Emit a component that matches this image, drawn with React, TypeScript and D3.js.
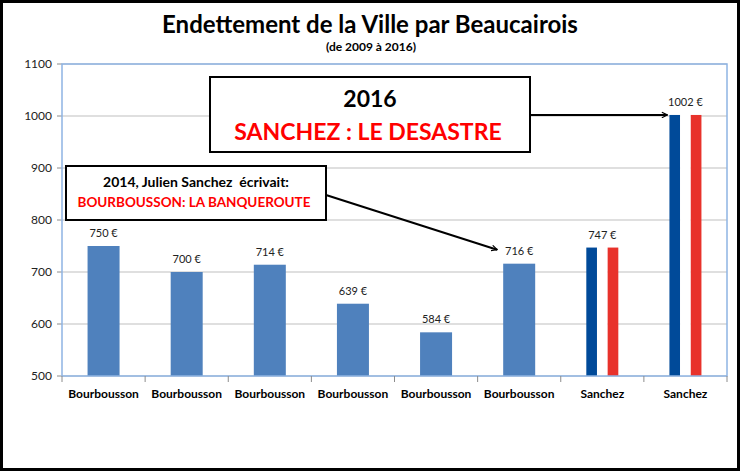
import React from "react";
import * as d3 from "d3";

const categories = ["Bourbousson", "Bourbousson", "Bourbousson", "Bourbousson", "Bourbousson", "Bourbousson", "Sanchez", "Sanchez"];
const values = [750, 700, 714, 639, 584, 716, 747, 1002];
const yTicks = [500, 600, 700, 800, 900, 1000, 1100];
const title = "Endettement de la Ville par Beaucairois";
const subtitle = "(de 2009 à 2016)";
const note2016 = ["2016", "SANCHEZ : LE DESASTRE"];
const note2014 = ["2014, Julien Sanchez  écrivait:", "BOURBOUSSON: LA BANQUEROUTE"];

const W = 740, H = 471;
const FONT = "Lato, 'Open Sans', sans-serif";

export default function App() {
  const x = d3.scaleBand<number>().domain(values.map((_, i) => i)).range([62, 727]).paddingInner(0.615).paddingOuter(0.3075);
  const y = d3.scaleLinear().domain([500, 1100]).range([376, 64]);
  const bw = x.bandwidth();
  const edges = d3.range(categories.length + 1).map((i) => 62 + i * x.step());

  const a1Tip: [number, number] = [(x(7) as number) - 2, y(values[7])];
  const a2Tip: [number, number] = [(x(5) as number) - 6, y(values[5]) - 14];

  return (
    <svg width={W} height={H} style={{ position: "fixed", left: 0, top: 0, background: "#fff" }} fontFamily={FONT}>
      <defs>
        <marker id="arr" viewBox="0 0 10 10" refX="9" refY="5" markerWidth="7" markerHeight="7" orient="auto" markerUnits="userSpaceOnUse">
          <path d="M1,1 L9,5 L1,9" fill="none" stroke="#000" strokeWidth="1.6" />
        </marker>
      </defs>
      <rect x={1.5} y={1.5} width={W - 3} height={H - 3} fill="#fff" stroke="#000" strokeWidth={3} />
      <text x={370} y={33} textAnchor="middle" fontWeight="bold" fontSize={24} fill="#000">{title}</text>
      <text x={371} y={51} textAnchor="middle" fontWeight="bold" fontSize={12} fill="#000">{subtitle}</text>

      {yTicks.map((t) => (
        <g key={t}>
          <line x1={62} x2={727} y1={y(t)} y2={y(t)} stroke="#bfbfbf" strokeWidth={1} />
          <line x1={57} x2={62} y1={y(t)} y2={y(t)} stroke="#8c8c8c" strokeWidth={1} />
          <text x={52} y={y(t) + 4} textAnchor="end" fontSize={12} fill="#222">{t}</text>
        </g>
      ))}

      {values.map((v, i) => {
        const x0 = x(i) as number;
        const isFlag = categories[i] === "Sanchez";
        const top = y(v);
        const h = y(500) - top;
        return (
          <g key={i}>
            {isFlag ? (
              <>
                <rect x={x0} y={top} width={bw / 3} height={h} fill="#004a99" />
                <rect x={x0 + bw / 3} y={top} width={bw / 3} height={h} fill="#ffffff" />
                <rect x={x0 + (2 * bw) / 3} y={top} width={bw / 3} height={h} fill="#e8322b" />
              </>
            ) : (
              <rect x={x0} y={top} width={bw} height={h} fill="#4f81bd" />
            )}
            <text x={x0 + bw / 2} y={top - 9} textAnchor="middle" fontSize={11} fill="#222">{`${v} €`}</text>
          </g>
        );
      })}

      <rect x={62} y={64} width={665} height={312} fill="none" stroke="#8eb4e3" strokeWidth={1.5} />
      {edges.map((e, i) => (
        <line key={i} x1={e} x2={e} y1={376} y2={382} stroke="#8c8c8c" strokeWidth={1} />
      ))}
      {categories.map((c, i) => (
        <text key={i} x={(x(i) as number) + bw / 2} y={398} textAnchor="middle" fontWeight="bold" fontSize={12} fill="#000">{c}</text>
      ))}

      <line x1={530} y1={a1Tip[1]} x2={a1Tip[0]} y2={a1Tip[1]} stroke="#000" strokeWidth={2} markerEnd="url(#arr)" />
      <rect x={210} y={77} width={320} height={75} fill="#fff" stroke="#000" strokeWidth={2} />
      <text x={370} y={107} textAnchor="middle" fontWeight="bold" fontSize={23} fill="#000">{note2016[0]}</text>
      <text x={368} y={140} textAnchor="middle" fontWeight="bold" fontSize={23} fill="#ff0000">{note2016[1]}</text>

      <line x1={326} y1={195} x2={a2Tip[0]} y2={a2Tip[1]} stroke="#000" strokeWidth={2} markerEnd="url(#arr)" />
      <rect x={66} y={166} width={260} height={54} fill="#fff" stroke="#000" strokeWidth={2} />
      <text x={196} y={187} textAnchor="middle" fontWeight="bold" fontSize={14} fill="#000" style={{ whiteSpace: "pre" }}>{note2014[0]}</text>
      <text x={194} y={207} textAnchor="middle" fontWeight="bold" fontSize={13.5} fill="#ff0000">{note2014[1]}</text>
    </svg>
  );
}
